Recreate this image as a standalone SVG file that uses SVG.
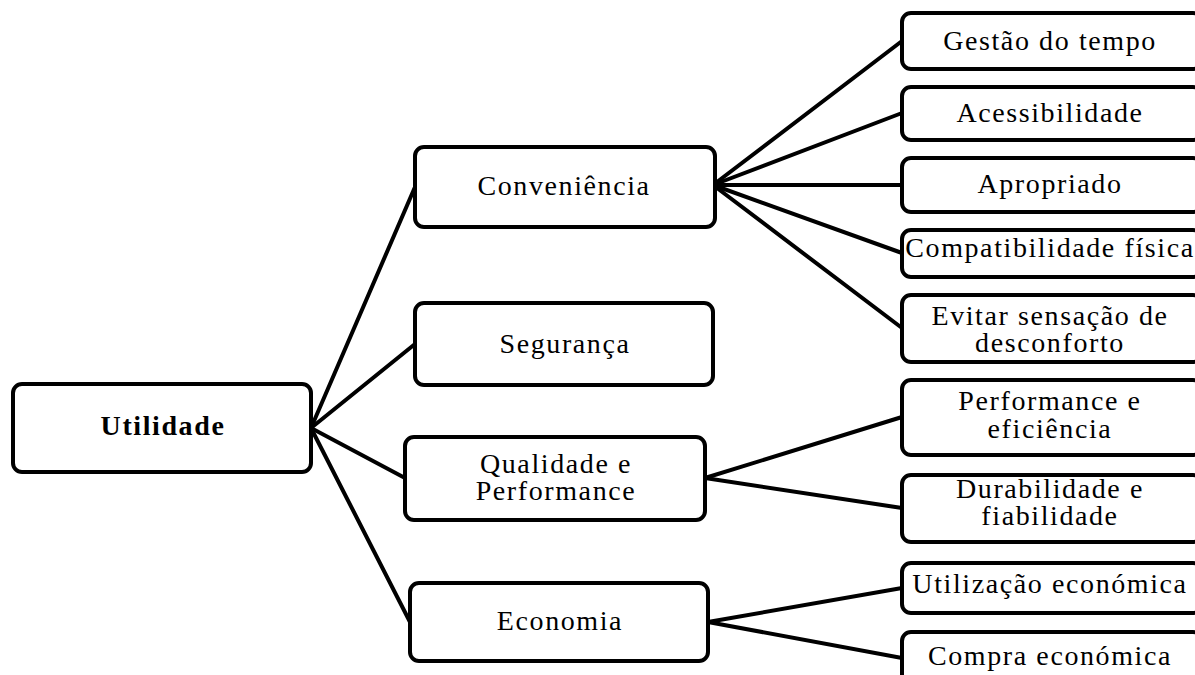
<svg xmlns="http://www.w3.org/2000/svg" width="1195" height="675" viewBox="0 0 1195 675">
<style>
.box{fill:#fff;stroke:#000;stroke-width:4}
text{font-family:'Liberation Serif','Times New Roman',serif;font-size:28px;letter-spacing:1.6px;text-anchor:middle;fill:#000}
.b{font-weight:bold}
.c{stroke:#000;stroke-width:4;fill:none;stroke-linecap:round}
</style>
<rect width="1195" height="675" fill="#fff"/>
<g id="connectors">
<line class="c" x1="311" y1="428" x2="415" y2="187"/>
<line class="c" x1="311" y1="428" x2="415" y2="344"/>
<line class="c" x1="311" y1="428" x2="405" y2="478"/>
<line class="c" x1="311" y1="428" x2="410" y2="622"/>
<line class="c" x1="713" y1="185" x2="902" y2="41"/>
<line class="c" x1="713" y1="185" x2="902" y2="113"/>
<line class="c" x1="713" y1="185" x2="902" y2="185"/>
<line class="c" x1="713" y1="185" x2="902" y2="253"/>
<line class="c" x1="713" y1="185" x2="902" y2="328"/>
<line class="c" x1="705" y1="478" x2="902" y2="417"/>
<line class="c" x1="705" y1="478" x2="902" y2="508"/>
<line class="c" x1="708" y1="622" x2="902" y2="588"/>
<line class="c" x1="708" y1="622" x2="902" y2="658"/>
</g>
<g id="utilidade"><rect class="box" x="13" y="384" width="298" height="88" rx="9"/><text class="b" x="163" y="435">Utilidade</text></g>
<g id="conveniencia"><rect class="box" x="415" y="147" width="300" height="80" rx="9"/><text x="564" y="195">Conveniência</text></g>
<g id="seguranca"><rect class="box" x="415" y="303" width="298" height="82" rx="9"/><text x="565" y="353">Segurança</text></g>
<g id="qualidade"><rect class="box" x="405" y="437" width="300" height="83" rx="9"/><text x="556" y="473">Qualidade e</text><text x="556" y="500">Performance</text></g>
<g id="economia"><rect class="box" x="410" y="583" width="298" height="78" rx="9"/><text x="560" y="630">Economia</text></g>
<g id="gestao"><rect class="box" x="902" y="13" width="300" height="56" rx="9"/><text x="1050" y="50">Gestão do tempo</text></g>
<g id="acessibilidade"><rect class="box" x="902" y="87" width="300" height="53" rx="9"/><text x="1050" y="122">Acessibilidade</text></g>
<g id="apropriado"><rect class="box" x="902" y="158" width="300" height="54" rx="9"/><text x="1050" y="193">Apropriado</text></g>
<g id="compatibilidade"><rect class="box" x="902" y="230" width="300" height="47" rx="9"/><text x="1050" y="257">Compatibilidade física</text></g>
<g id="evitar"><rect class="box" x="902" y="295" width="300" height="67" rx="9"/><text x="1050" y="325">Evitar sensação de</text><text x="1050" y="352">desconforto</text></g>
<g id="performance"><rect class="box" x="902" y="380" width="300" height="75" rx="9"/><text x="1050" y="410">Performance e</text><text x="1050" y="438">eficiência</text></g>
<g id="durabilidade"><rect class="box" x="902" y="475" width="300" height="67" rx="9"/><text x="1050" y="498">Durabilidade e</text><text x="1050" y="525">fiabilidade</text></g>
<g id="utilizacao"><rect class="box" x="902" y="563" width="300" height="50" rx="9"/><text x="1050" y="593">Utilização económica</text></g>
<g id="compra"><rect class="box" x="902" y="632" width="300" height="60" rx="9"/><text x="1050" y="665">Compra económica</text></g>
</svg>
